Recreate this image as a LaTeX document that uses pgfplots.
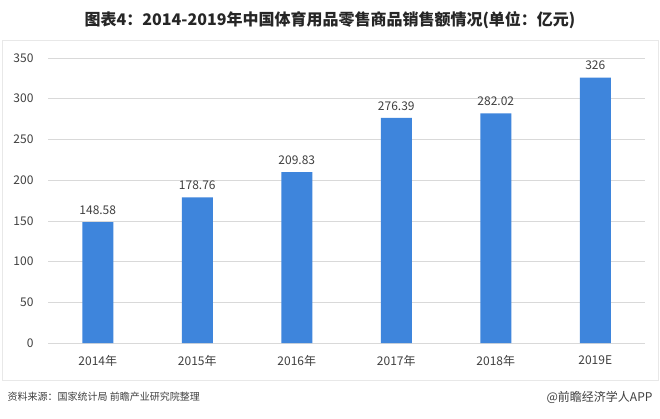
\documentclass[border=0pt]{standalone}
\usepackage{pgfplots}
\pgfplotsset{compat=1.18}
\usepackage{fontspec}
\setmainfont{Noto Sans CJK SC}
\definecolor{barblue}{HTML}{3E85DC}
\definecolor{gridgray}{HTML}{D9D9D9}
\definecolor{txtgray}{HTML}{404040}
\begin{document}
\begin{tikzpicture}[x=1pt,y=1pt]
\path[use as bounding box] (0,0) rectangle (660,418);
\fill[white] (0,0) rectangle (660,418);
\draw[gridgray!60,line width=0.6pt] (2,38) rectangle (658,378);
\node[font=\fontsize{16}{18}\selectfont\bfseries, text=black!85] at (330,398) {图表4：2014-2019年中国体育用品零售商品销售额情况(单位：亿元)};
\node[anchor=west, font=\fontsize{10}{12}\selectfont, text=txtgray] at (4,21) {资料来源：国家统计局 前瞻产业研究院整理};
\node[anchor=east, font=\fontsize{12}{14}\selectfont, text=txtgray] at (656,21) {@前瞻经济学人APP};
\begin{axis}[
  at={(48pt,75pt)}, anchor=south west,
  width=597pt, height=285pt, scale only axis,
  xmin=-0.5, xmax=5.5, ymin=0, ymax=350,
  ytick={0,50,...,350},
  xtick={0,...,5},
  xticklabels={2014年,2015年,2016年,2017年,2018年,2019E},
  axis x line*=bottom, axis y line*=left,
  x axis line style={draw=gridgray, line width=0.8pt, -},
  y axis line style={draw=none},
  ymajorgrids, grid style={gridgray, line width=0.6pt},
  major tick length=0pt,
  tick label style={font=\fontsize{12}{14}\selectfont, text=txtgray},
  yticklabel style={xshift=-11pt},
  xticklabel style={yshift=-9pt},
  /pgf/number format/assume math mode=true,
  ybar, bar width=31pt,
  nodes near coords, nodes near coords style={font=\fontsize{12}{14}\selectfont, text=txtgray, yshift=4pt},
  point meta=explicit symbolic,
  clip=false,
]
\addplot[fill=barblue, draw=none] coordinates {(0,148.58)[148.58] (1,178.76)[178.76] (2,209.83)[209.83] (3,276.39)[276.39] (4,282.02)[282.02] (5,326)[326]};
\end{axis}
\end{tikzpicture}
\end{document}
